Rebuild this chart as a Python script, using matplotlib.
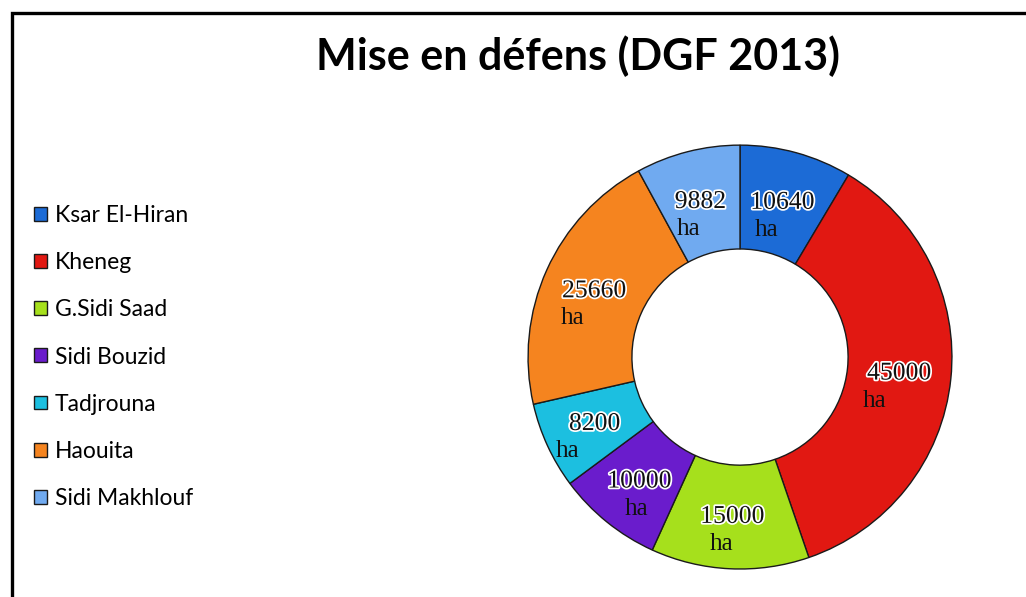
import numpy as np
import matplotlib.pyplot as plt
from matplotlib.patches import Rectangle
import matplotlib.patheffects as pe

# data
zones = ['Ksar El-Hiran', 'Kheneg', 'G.Sidi Saad', 'Sidi Bouzid',
         'Tadjrouna', 'Haouita', 'Sidi Makhlouf']
surface_ha = [10640, 45000, 15000, 10000, 8200, 25660, 9882]
colors = ['#1c6bd6', '#e11812', '#a6e01c', '#6a1ccc',
          '#1cbfe0', '#f5841f', '#70aaf0']

# offsets (px) of the "ha" line under each number
ha_dx = [-16, -25, -11, -3, -27, -22, -12]
ha_dy = -27

fig = plt.figure(figsize=(10.26, 5.97), dpi=100)

# outer frame of the original chart
fig.patches.append(Rectangle((12 / 1026, -0.2), 1.2, 1.2 - 13 / 597,
                             transform=fig.transFigure, fill=False,
                             edgecolor='black', linewidth=2.4))

fig.text(0.563, 0.905, 'Mise en défens (DGF 2013)', ha='center', va='center',
         fontsize=31, fontweight='bold', family='Lato')

ax = fig.add_axes([0.5146, 0.0469, 0.4133, 0.710])
wedges, _ = ax.pie(surface_ha, colors=colors, startangle=90, counterclock=False,
                   radius=1.0,
                   wedgeprops=dict(width=0.49, edgecolor='#1a1a1a', linewidth=1.0))
ax.set_xlim(-1, 1)
ax.set_ylim(-1, 1)
ax.set_aspect('equal')
ax.axis('off')

r_lab = 0.755
for w, val, dx in zip(wedges, surface_ha, ha_dx):
    ang = np.deg2rad((w.theta1 + w.theta2) / 2)
    x, y = r_lab * np.cos(ang), r_lab * np.sin(ang)
    ax.text(x, y, str(val), ha='center', va='center', fontsize=18.5,
            family='Liberation Serif', color='#111111',
            path_effects=[pe.withStroke(linewidth=2.5, foreground='white')])
    ax.annotate('ha', (x, y), xytext=(dx, ha_dy), textcoords='offset pixels',
                ha='center', va='center', fontsize=18,
                family='Liberation Serif', color='#111111')

fig.legend(wedges, zones, loc='center left', bbox_to_anchor=(0.022, 0.402),
           frameon=False, prop={'family': 'Lato', 'size': 16.5},
           handlelength=0.55, handleheight=0.55, handletextpad=0.35,
           labelspacing=1.14, borderpad=0)

plt.savefig('out.png', dpi=100)
